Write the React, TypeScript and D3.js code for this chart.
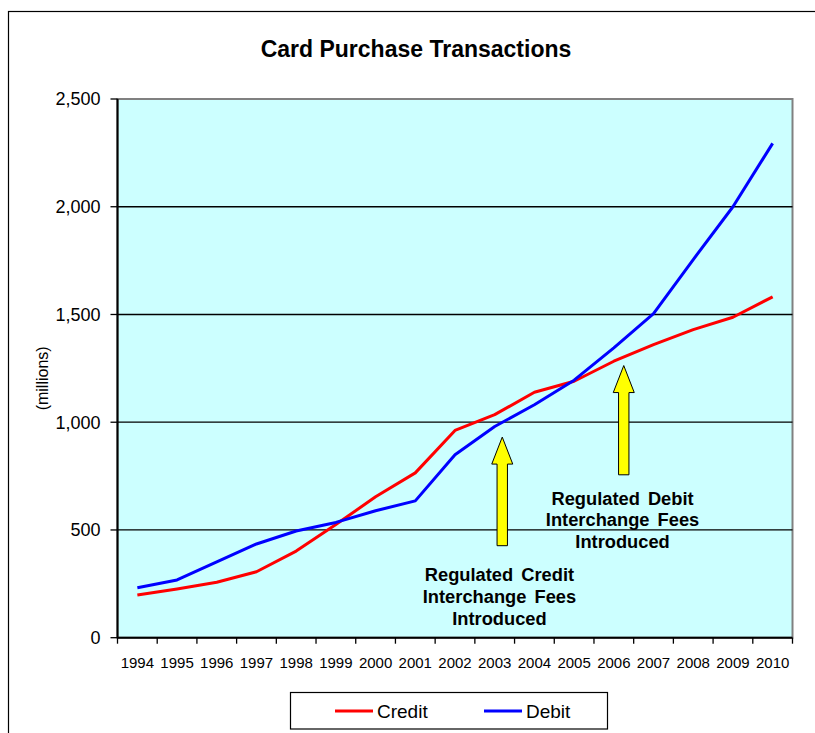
import React from "react";
import * as d3 from "d3";

const years = ["1994","1995","1996","1997","1998","1999","2000","2001","2002","2003","2004","2005","2006","2007","2008","2009","2010"];
const credit = [198, 226, 257, 306, 402, 525, 654, 765, 962, 1035, 1139, 1190, 1283, 1360, 1430, 1487, 1582];
const debit = [232, 268, 352, 435, 495, 535, 589, 635, 849, 980, 1081, 1195, 1345, 1504, 1755, 2000, 2294];
const yTicks = [0, 500, 1000, 1500, 2000, 2500];
const seriesNames = ["Credit", "Debit"];
const seriesColors = ["#FF0000", "#0000FF"];
// arrows: category position (fractional index), tip value, base value
const arrows = [
  { pos: 9.19, tip: 931, base: 427 },
  { pos: 12.25, tip: 1263, base: 756 },
];
const notes = [
  { pos: 9.12, lines: ["Regulated Credit", "Interchange Fees", "Introduced"], top: 290 },
  { pos: 12.22, lines: ["Regulated Debit", "Interchange Fees", "Introduced"], top: 645 },
];

const W = 815, H = 733;
const left = 117.5, right = 792.5, top = 99, bottom = 637.7;

export default function App() {
  const xi = d3.scaleLinear().domain([0, years.length]).range([left, right]);
  const xc = (i: number) => xi(i + 0.5);
  const y = d3.scaleLinear().domain([0, 2500]).range([bottom, top]);
  const line = d3.line<number>().x((_, i) => xc(i)).y((d) => y(d));
  const font = "'Liberation Sans', Arial, sans-serif";

  const arrowPath = (a: { pos: number; tip: number; base: number }) => {
    const cx = xc(a.pos);
    const ty = y(a.tip), by = y(a.base);
    const hw = 10.5, sw = 5.2, hh = 27;
    const p = d3.path();
    p.moveTo(cx, ty);
    p.lineTo(cx + hw, ty + hh);
    p.lineTo(cx + sw, ty + hh);
    p.lineTo(cx + sw, by);
    p.lineTo(cx - sw, by);
    p.lineTo(cx - sw, ty + hh);
    p.lineTo(cx - hw, ty + hh);
    p.closePath();
    return p.toString();
  };

  return (
    <svg width={W} height={H} style={{ position: "absolute", left: 0, top: 0, background: "#fff" }} fontFamily={font}>
      <rect x={8.5} y={11.5} width={850} height={800} fill="#fff" stroke="#000" strokeWidth={1.2} />
      <text x={416} y={57} textAnchor="middle" fontSize={23} fontWeight="bold">Card Purchase Transactions</text>
      <rect x={left} y={top} width={right - left} height={bottom - top} fill="#CCFFFF" stroke="#808080" strokeWidth={2} />
      {yTicks.map((t) => (
        <g key={t}>
          {t > 0 && t < 2500 && <line x1={left} x2={right} y1={y(t)} y2={y(t)} stroke="#000" strokeWidth={1.3} />}
          <line x1={left - 7} x2={left} y1={y(t)} y2={y(t)} stroke="#000" strokeWidth={1.3} />
          <text x={left - 17} y={y(t)} dy="0.36em" textAnchor="end" fontSize={18}>{d3.format(",")(t)}</text>
        </g>
      ))}
      <line x1={left} x2={left} y1={top} y2={bottom} stroke="#000" strokeWidth={2} />
      <line x1={left} x2={right} y1={bottom} y2={bottom} stroke="#000" strokeWidth={2} />
      {d3.range(years.length + 1).map((i) => (
        <line key={i} x1={xi(i)} x2={xi(i)} y1={bottom} y2={bottom + 6} stroke="#000" strokeWidth={1.3} />
      ))}
      {years.map((yr, i) => (
        <text key={yr} x={xc(i)} y={668} textAnchor="middle" fontSize={15}>{yr}</text>
      ))}
      <text transform={`translate(48,${(top + bottom) / 2 + 10}) rotate(-90)`} textAnchor="middle" fontSize={16}>(millions)</text>
      {[credit, debit].map((s, k) => (
        <path key={k} d={line(s) || ""} fill="none" stroke={seriesColors[k]} strokeWidth={3} strokeLinejoin="round" />
      ))}
      {arrows.map((a, k) => (
        <path key={k} d={arrowPath(a)} fill="#FFFF00" stroke="#000" strokeWidth={1} />
      ))}
      {notes.map((n, k) => (
        <text key={k} x={xc(n.pos)} textAnchor="middle" fontSize={18.3} fontWeight="bold" wordSpacing={3}>
          {n.lines.map((l, j) => (
            <tspan key={j} x={xc(n.pos)} y={y(n.top) + 6 + j * 21.7}>{l}</tspan>
          ))}
        </text>
      ))}
      <rect x={290.5} y={692.5} width={317} height={36.5} fill="#fff" stroke="#000" strokeWidth={1.2} />
      {seriesNames.map((nm, k) => (
        <g key={nm}>
          <line x1={335 + k * 149} x2={373 + k * 149} y1={711} y2={711} stroke={seriesColors[k]} strokeWidth={3} />
          <text x={377 + k * 149} y={717.5} fontSize={19}>{nm}</text>
        </g>
      ))}
    </svg>
  );
}
